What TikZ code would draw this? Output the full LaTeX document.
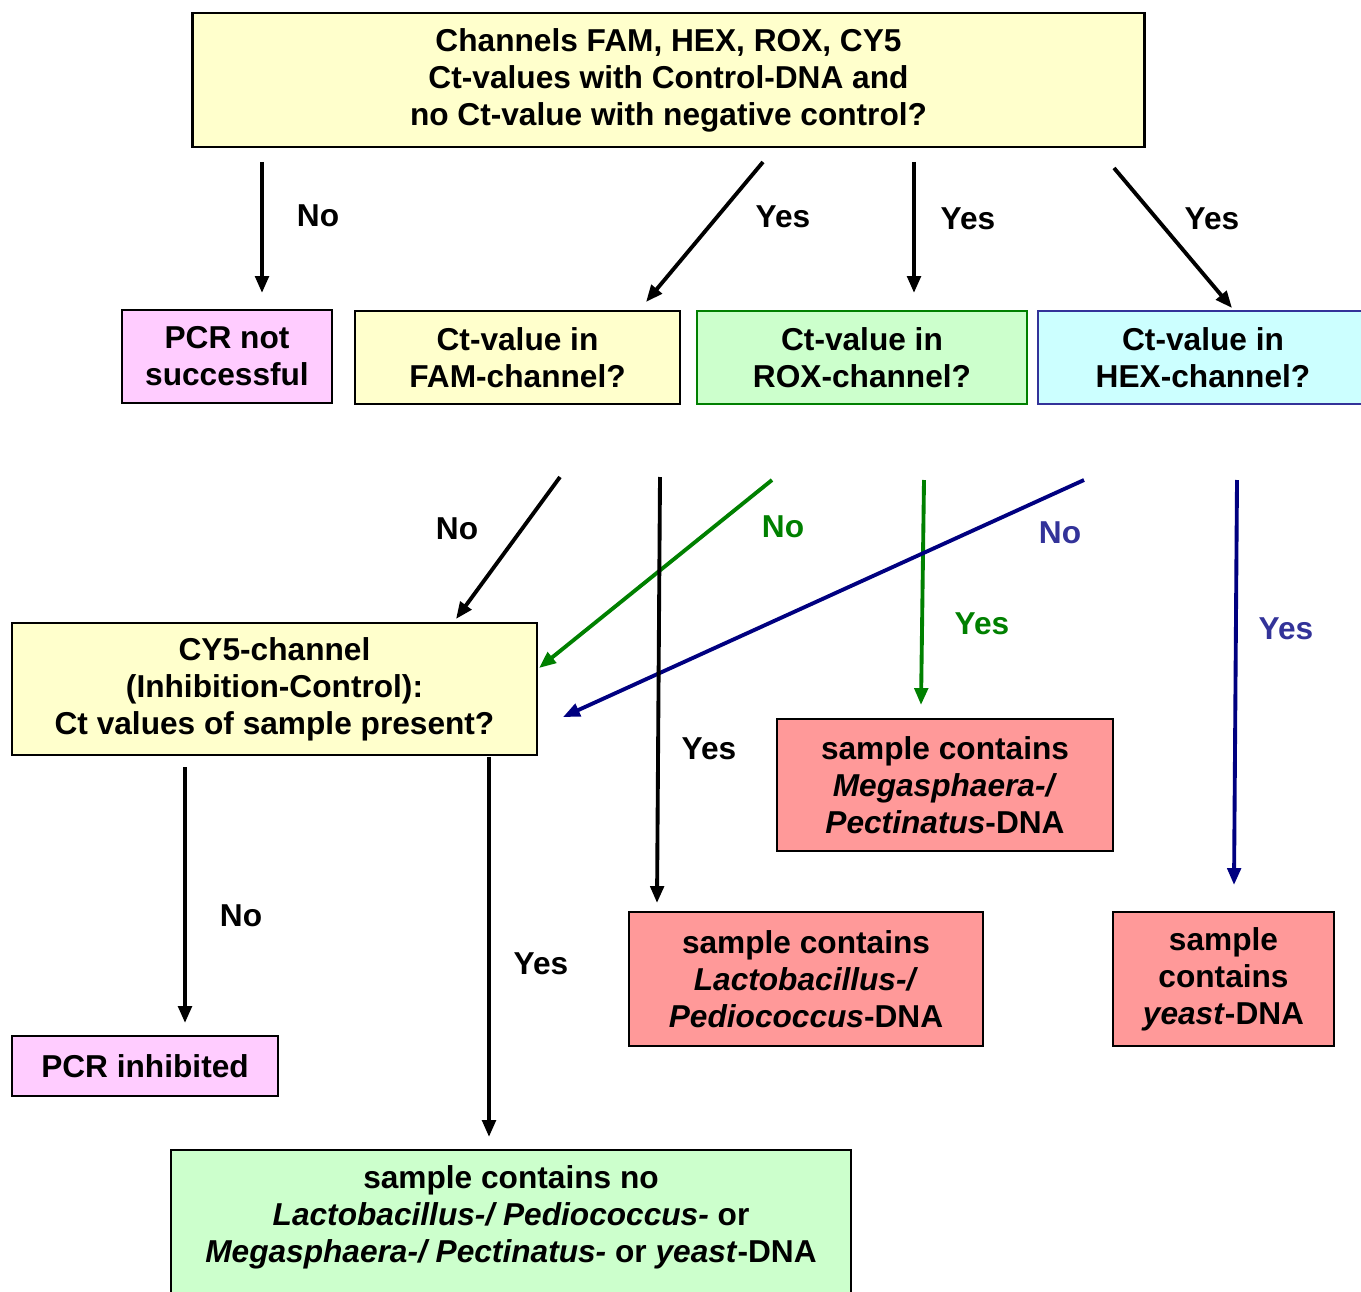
\documentclass[tikz,border=0pt]{standalone}
\usepackage{fontspec}
\setmainfont{Liberation Sans}
\usepackage{xcolor}
\usetikzlibrary{arrows.meta, positioning, calc}

\definecolor{giallo}{HTML}{FFFFCC}
\definecolor{rosa}{HTML}{FFCCFF}
\definecolor{verdino}{HTML}{CCFFCC}
\definecolor{azzurro}{HTML}{CCFFFF}
\definecolor{rosso}{HTML}{FF9999}
\definecolor{verde}{HTML}{008000}
\definecolor{blu}{HTML}{000080}
\definecolor{blutesto}{HTML}{333399}

\tikzset{
  scatola/.style={draw=black, line width=0.7pt, align=center, inner sep=0pt,
                  font=\bfseries\fontsize{9}{10.5}\selectfont},
  freccia/.style={-{Triangle[length=4.8pt,width=3.8pt]}, line width=1.1pt},
  etichetta/.style={font=\bfseries\fontsize{9}{10.5}\selectfont}
}

\begin{document}
\begin{tikzpicture}[x=0.01cm, y=-0.01cm]
    \useasboundingbox (0,0) rectangle (1361,1291);

    % caselle
    \node[scatola, fill=giallo, minimum width=9.51cm, minimum height=1.34cm] (Canali) at (668.5,80)
        {Channels FAM, HEX, ROX, CY5\\Ct-values with Control-DNA and\\no Ct-value with negative control?};
    \node[scatola, fill=rosa, minimum width=2.10cm, minimum height=0.93cm] (PcrNo) at (227,356.5)
        {PCR not\\successful};
    \node[scatola, fill=giallo, minimum width=3.25cm, minimum height=0.93cm] (Fam) at (517.5,357.5)
        {Ct-value in\\FAM-channel?};
    \node[scatola, fill=verdino, draw=verde, minimum width=3.30cm, minimum height=0.93cm] (Rox) at (862,357.5)
        {Ct-value in\\ROX-channel?};
    \node[scatola, fill=azzurro, draw=blutesto, minimum width=3.30cm, minimum height=0.93cm] (Hex) at (1203,357.5)
        {Ct-value in\\HEX-channel?};
    \node[scatola, fill=giallo, minimum width=5.25cm, minimum height=1.32cm] (Cy5) at (274.5,689)
        {CY5-channel\\(Inhibition-Control):\\Ct values of sample present?};
    \node[scatola, fill=rosso, minimum width=3.36cm, minimum height=1.32cm] (Mega) at (945,785)
        {sample contains\\\textit{Megasphaera-/}\\\textit{Pectinatus}-DNA};
    \node[scatola, fill=rosso, minimum width=3.54cm, minimum height=1.34cm] (Lacto) at (806,979)
        {sample contains\\\textit{Lactobacillus-/}\\\textit{Pediococcus}-DNA};
    \node[scatola, fill=rosso, minimum width=2.21cm, minimum height=1.34cm] (Lievito) at (1223.5,979)
        {sample\\contains\\\textit{yeast}-DNA};
    \node[scatola, fill=rosa, minimum width=2.66cm, minimum height=0.60cm] (PcrInib) at (145,1066)
        {PCR inhibited};
    \path[draw=black, line width=0.7pt, fill=verdino] (171,1150) rectangle (851,1310);
    \node[scatola, draw=none] (NoDna) at (511,1217)
        {sample contains no\\\textit{Lactobacillus-/ Pediococcus-} or\\\textit{Megasphaera-/ Pectinatus-} or \textit{yeast}-DNA};

    % punti delle frecce
    \coordinate (A1) at (262,162);  \coordinate (B1) at (262,293);
    \coordinate (A2) at (763,162);  \coordinate (B2) at (646,302);
    \coordinate (A3) at (914,162);  \coordinate (B3) at (914,293);
    \coordinate (A4) at (1114,168); \coordinate (B4) at (1232,308);
    \coordinate (A5) at (560,477);  \coordinate (B5) at (456,619);
    \coordinate (A6) at (660,477);  \coordinate (B6) at (657,903);
    \coordinate (A7) at (772,480);  \coordinate (B7) at (539,668);
    \coordinate (A8) at (924,480);  \coordinate (B8) at (921,705);
    \coordinate (A9) at (1084,480); \coordinate (B9) at (563,717);
    \coordinate (A10) at (1237,480); \coordinate (B10) at (1234,885);
    \coordinate (A11) at (185,767); \coordinate (B11) at (185,1023);
    \coordinate (A12) at (489,757); \coordinate (B12) at (489,1137);

    \draw[freccia] (A1) to (B1);
    \draw[freccia] (A2) to (B2);
    \draw[freccia] (A3) to (B3);
    \draw[freccia] (A4) to (B4);
    \draw[freccia] (A5) to (B5);
    \draw[freccia, verde] (A7) to (B7);
    \draw[freccia, verde] (A8) to (B8);
    \draw[freccia, blu] (A9) to (B9);
    \draw[freccia, blu] (A10) to (B10);
    \draw[freccia] (A6) to (B6);
    \draw[freccia] (A11) to (B11);
    \draw[freccia] (A12) to (B12);

    % etichette
    \node[etichetta] (L1) at (318,216) {No};
    \node[etichetta] (L2) at (783,217) {Yes};
    \node[etichetta] (L3) at (968,219) {Yes};
    \node[etichetta] (L4) at (1212,219) {Yes};
    \node[etichetta] (L5) at (457,529) {No};
    \node[etichetta, text=verde] (L7) at (783,527) {No};
    \node[etichetta, text=blutesto] (L9) at (1060,533) {No};
    \node[etichetta, text=verde] (L8) at (982,624) {Yes};
    \node[etichetta, text=blutesto] (L10) at (1286,629) {Yes};
    \node[etichetta] (L6) at (709,749) {Yes};
    \node[etichetta] (L11) at (241,916) {No};
    \node[etichetta] (L12) at (541,964) {Yes};
\end{tikzpicture}
\end{document}
